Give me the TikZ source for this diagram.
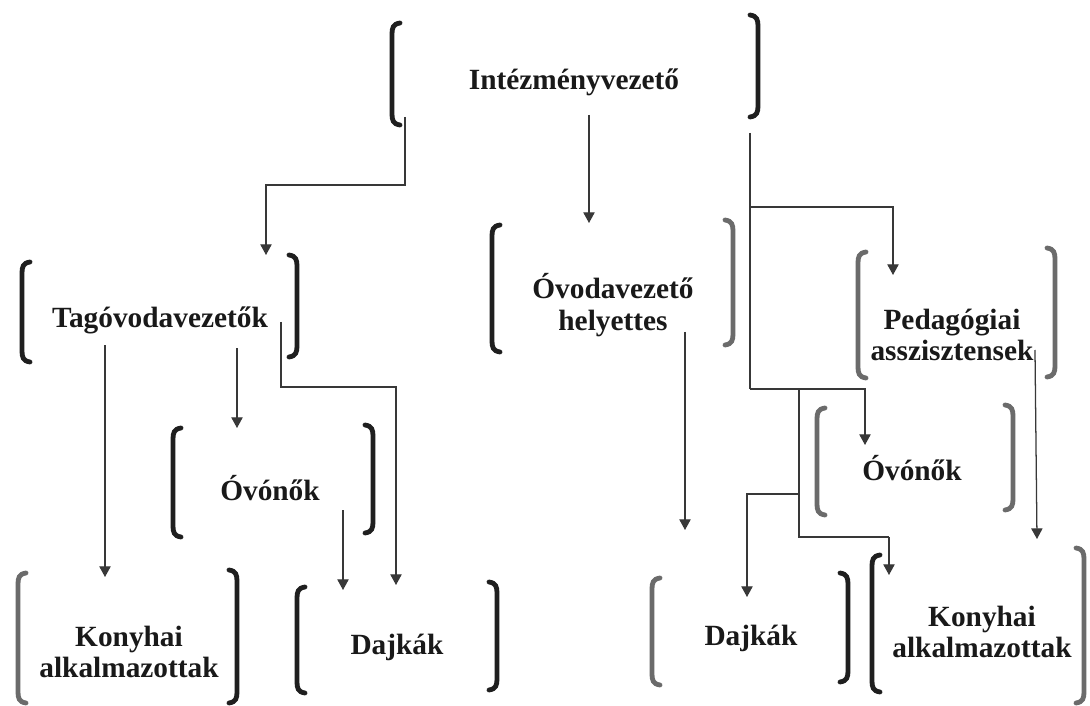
\documentclass[tikz,border=0pt]{standalone}
\usepackage{fontspec}
\setmainfont{Liberation Serif}
\usetikzlibrary{arrows.meta}
\newcommand{\Lbr}[4][brk]{\draw[#1] (#2+8,#3) .. controls (#2+1,#3+1) and (#2,#3+5) .. (#2,#3+11) -- (#2,#4-11) .. controls (#2,#4-5) and (#2+1,#4-1) .. (#2+8,#4);}
\newcommand{\Rbr}[4][brk]{\draw[#1] (#2-8,#3) .. controls (#2-1,#3+1) and (#2,#3+5) .. (#2,#3+11) -- (#2,#4-11) .. controls (#2,#4-5) and (#2-1,#4-1) .. (#2-8,#4);}
\begin{document}
\begin{tikzpicture}[x=0.75pt,y=-0.75pt,
  lbl/.style={font=\fontsize{22}{23.5}\selectfont\bfseries, align=center, text=black!90, inner sep=0pt},
  conn/.style={draw=black!78, line width=0.95pt},
  arr/.style={conn, -{Triangle[width=8.5pt,length=8pt]}},
  brk/.style={line width=3.6pt, line cap=round, draw=black!88},
  brkg/.style={brk, draw=black!58}]
\useasboundingbox[fill=white] (0,0) rectangle (1090,706);

% text nodes
\node[lbl] (iv)  at (574,82)  {Intézményvezető};
\node[lbl] (tv)  at (160,320) {Tagóvodavezetők};
\node[lbl] (ovl) at (270,488) {Óvónők};
\node[lbl] (kal) at (129,652) {Konyhai\\alkalmazottak};
\node[lbl] (dl)  at (397,647) {Dajkák};
\node[lbl] (oh)  at (613,305) {Óvodavezető\\helyettes};
\node[lbl] (pa)  at (952,335) {Pedagógiai\\asszisztensek};
\node[lbl] (ovr) at (912,468) {Óvónők};
\node[lbl] (dr)  at (751,638) {Dajkák};
\node[lbl] (kar) at (982,632) {Konyhai\\alkalmazottak};

% brackets
\Lbr{392}{23}{125}   \Rbr{758}{15}{117}
\Lbr{22}{262}{362}   \Rbr{297}{255}{357}
\Lbr{173}{428}{537}  \Rbr{373}{425}{533}
\Lbr[brkg]{18}{573}{703} \Rbr{237}{570}{703}
\Lbr{297}{587}{693}  \Rbr{497}{582}{690}
\Lbr{492}{225}{352}  \Rbr[brkg]{733}{220}{345}
\Lbr[brkg]{858}{252}{378} \Rbr[brkg]{1055}{248}{377}
\Lbr[brkg]{817}{408}{515} \Rbr[brkg]{1013}{405}{510}
\Lbr[brkg]{652}{578}{685} \Rbr{848}{573}{682}
\Lbr{872}{555}{692}  \Rbr[brkg]{1084}{548}{703}

% connector end points
\coordinate (ivA) at (405,117);  \coordinate (tvT) at (266,255);
\coordinate (ivB) at (589,115);  \coordinate (ohT) at (589,223);
\coordinate (ivC) at (750,133);  \coordinate (ivCe) at (750,389);
\coordinate (brP) at (750,207);  \coordinate (paT) at (893,275);
\coordinate (brO) at (750,389);  \coordinate (ovrT) at (865,445);
\coordinate (brK) at (799,389);  \coordinate (karT) at (889,575);
\coordinate (karB) at (889,537);
\coordinate (brD) at (799,494);  \coordinate (drT) at (747,597);
\coordinate (tvL) at (105,345);  \coordinate (kalT) at (105,577);
\coordinate (tvM) at (237,348);  \coordinate (ovlT) at (237,428);
\coordinate (tvR) at (281,322);  \coordinate (dlB) at (396,387);
\coordinate (dlT) at (396,585);
\coordinate (ovlB) at (343,510); \coordinate (dlT2) at (343,590);
\coordinate (ohB) at (685,332);  \coordinate (drT2) at (685,530);
\coordinate (paB) at (1035,350); \coordinate (karT2) at (1037,539);

% connectors
\draw[arr] (ivA) |- (tvT |- 0,185) -- (tvT);
\draw[arr] (ivB) -- (ohT);
\draw[conn] (ivC) -- (ivCe);
\draw[arr] (brP) -| (paT);
\draw[arr] (brO) -| (ovrT);
\draw[conn] (brK) |- (karB);
\draw[arr] (karB) -- (karT);
\draw[arr] (brD) -| (drT);
\draw[arr] (tvL) -- (kalT);
\draw[arr] (tvM) -- (ovlT);
\draw[arr] (tvR) |- (dlB) -- (dlT);
\draw[arr] (ovlB) -- (dlT2);
\draw[arr] (ohB) -- (drT2);
\draw[arr] (paB) -- (karT2);
\end{tikzpicture}
\end{document}
